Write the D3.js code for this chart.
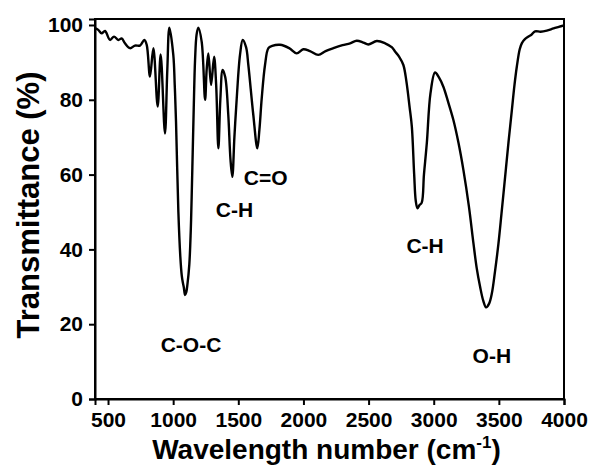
<!DOCTYPE html>
<html>
<head>
<meta charset="utf-8">
<script src="https://cdn.jsdelivr.net/npm/d3@7"></script>
<style>
  body { margin: 0; background: #fff; }
  text { font-family: "Liberation Sans", Arial, sans-serif; font-weight: bold; }
</style>
</head>
<body>
<svg width="591" height="469"></svg>
<script>
// FTIR spectrum
const wavenumber = [
  400, 425, 451, 477, 515, 546, 579, 605, 630, 669, 707, 745, 779, 797,
  822, 848, 881, 904, 937, 955, 971, 1001, 1012, 1022, 1040, 1055, 1066,
  1075, 1082, 1091, 1100, 1109, 1124, 1135, 1142, 1150, 1158, 1168, 1180,
  1193, 1219, 1245, 1257, 1270, 1291, 1314, 1330, 1347, 1362, 1380, 1400,
  1423, 1440, 1454, 1470, 1488, 1513, 1534, 1560, 1577, 1615, 1646, 1662,
  1680, 1705, 1731, 1760, 1820, 1890, 1948, 1999, 2050, 2114, 2170, 2230,
  2300, 2358, 2409, 2460, 2498, 2563, 2627, 2680, 2703, 2735, 2767, 2790,
  2815, 2832, 2850, 2862, 2875, 2890, 2908, 2925, 2947, 2975, 3010, 3040,
  3074, 3110, 3151, 3190, 3228, 3270, 3305, 3330, 3356, 3380, 3402, 3425,
  3446, 3470, 3497, 3520, 3548, 3575, 3600, 3620, 3638, 3660, 3676, 3700,
  3727, 3750, 3778, 3820, 3868, 3920, 3960, 4000
];
const transmittance = [
  99.2, 98.7, 97.8, 98.4, 96.0, 96.9, 96.0, 96.4, 95.1, 93.8, 94.5, 94.5, 96.0, 94.7,
  86.2, 93.8, 78.2, 92.1, 71.0, 88.0, 99.3, 92.0, 84.0, 74.0, 50.0, 38.0, 33.0,
  31.0, 29.8, 27.8, 28.5, 30.5, 36.0, 45.0, 54.0, 66.0, 78.0, 90.6, 97.5,
  99.3, 95.5, 80.0, 88.0, 92.4, 84.0, 91.5, 84.0, 67.0, 80.0, 88.0, 86.0,
  76.0, 64.0, 59.4, 70.0, 80.4, 92.0, 96.0, 94.0, 89.3, 76.0, 67.0, 72.0,
  80.5, 89.3, 93.8, 94.4, 94.7, 93.8, 92.4, 93.5, 93.0, 92.0, 93.0, 93.8,
  94.6, 95.1, 95.8, 95.3, 94.8, 95.7, 95.1, 94.0, 92.9, 91.5, 89.3, 85.0,
  78.0, 72.8, 60.0, 53.0, 51.0, 51.8, 52.5, 60.0, 68.4, 81.7, 87.3, 86.0,
  83.5, 79.5, 74.6, 68.5, 61.2, 51.5, 41.6, 35.0, 30.0, 26.3, 24.5, 25.5,
  28.2, 34.0, 41.6, 49.5, 59.4, 69.0, 77.3, 84.0, 88.9, 93.5, 95.1, 96.2,
  96.9, 97.4, 98.3, 98.2, 98.5, 99.1, 99.5, 99.9
];
const xTicks = [500, 1000, 1500, 2000, 2500, 3000, 3500, 4000];
const yTicks = [0, 20, 40, 60, 80, 100];
const bandLabels = ['C-O-C', 'C-H', 'C=O', 'C-H', 'O-H'];
const bandX = [1137, 1471, 1710, 2934, 3446];
const bandY = [12.6, 48.7, 57.2, 39, 9.6];

const svg = d3.select('svg');
const width = +svg.attr('width');
const height = +svg.attr('height');
const margin = { top: 19, right: 27, bottom: 70, left: 95 };
const innerWidth = width - margin.left - margin.right;
const innerHeight = height - margin.top - margin.bottom;

const data = wavenumber.map((w, i) => ({ w, t: transmittance[i] }));

const xScale = d3.scaleLinear().domain([400, 4000]).range([0, innerWidth]);
const yScale = d3.scaleLinear().domain([0, 101.6]).range([innerHeight, 0]);

const g = svg.append('g')
  .attr('transform', `translate(${margin.left},${margin.top})`);

// frame
g.append('rect')
  .attr('width', innerWidth)
  .attr('height', innerHeight)
  .attr('fill', 'none')
  .attr('stroke', '#000')
  .attr('stroke-width', 2);

const xAxis = g.append('g')
  .attr('transform', `translate(0,${innerHeight})`)
  .call(d3.axisBottom(xScale).tickValues(xTicks).tickSize(6).tickPadding(7).tickFormat(d3.format('d')));
const yAxis = g.append('g')
  .call(d3.axisLeft(yScale).tickValues(yTicks).tickSize(6).tickPadding(6));

[xAxis, yAxis].forEach(a => {
  a.select('.domain').attr('stroke-width', 2);
  a.selectAll('.tick line').attr('stroke-width', 2);
  a.selectAll('.tick text').attr('font-size', 21).attr('fill', '#000');
});

g.append('path')
  .datum(data)
  .attr('fill', 'none')
  .attr('stroke', '#000')
  .attr('stroke-width', 2.4)
  .attr('stroke-linejoin', 'round')
  .attr('d', d3.line()
    .x(d => xScale(d.w))
    .y(d => yScale(d.t))
    .curve(d3.curveCatmullRom.alpha(0.5)));

g.selectAll('.band').data(bandLabels)
  .enter().append('text')
  .attr('class', 'band')
  .attr('x', (d, i) => xScale(bandX[i]))
  .attr('y', (d, i) => yScale(bandY[i]))
  .attr('text-anchor', 'middle')
  .attr('font-size', 21)
  .text(d => d);

// axis titles
const xTitle = svg.append('text')
  .attr('x', margin.left + innerWidth / 2 - 3)
  .attr('y', 459)
  .attr('text-anchor', 'middle')
  .attr('font-size', 28);
xTitle.append('tspan').text('Wavelength number (cm');
xTitle.append('tspan').attr('font-size', 17).attr('dy', -11).text('-1');
xTitle.append('tspan').attr('dy', 11).text(')');

svg.append('text')
  .attr('transform', `translate(39,${margin.top + innerHeight / 2 - 4}) rotate(-90)`)
  .attr('text-anchor', 'middle')
  .attr('font-size', 31)
  .text('Transmittance (%)');
</script>
</body>
</html>
